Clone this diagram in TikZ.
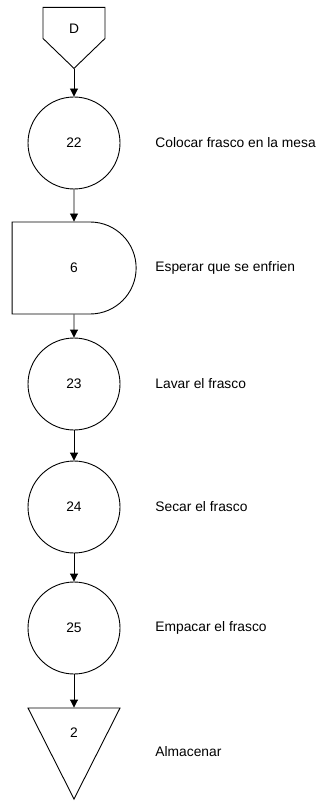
\documentclass[tikz,border=0pt]{standalone}
\usepackage{fontspec}
\setmainfont{Liberation Sans}
\usetikzlibrary{positioning,arrows.meta,shapes.symbols,shapes.misc,shapes.geometric}

\tikzset{
every node/.style={font=\fontsize{13.8}{16}\selectfont},
op/.style={draw, circle, minimum size=92pt, inner sep=0pt},
offpage/.style={draw, signal, signal to=south, signal pointer angle=92,
    minimum width=62pt, minimum height=31pt, inner sep=0pt},
delay/.style={draw, rounded rectangle, rounded rectangle left arc=none,
    minimum width=124pt, minimum height=92pt, inner sep=0pt},
store/.style={draw, isosceles triangle, isosceles triangle apex angle=54,
    isosceles triangle stretches, shape border rotate=270,
    minimum width=92pt, minimum height=91pt, inner sep=0pt},
desc/.style={anchor=west, inner sep=0pt},
flow/.style={-{Triangle[length=8pt,width=8pt]}}
}

\begin{document}
\begin{tikzpicture}[x=1pt, y=-1pt, line width=0.9pt]
\useasboundingbox (0,0) rectangle (320,802);

\node (d) [offpage, anchor=north] at (74,7) {};
\node at (74,29) {D};

\node (c22) [op] at (74,143) {22};
\node (w6) [delay] at (74,268) {6};
\node (c23) [op] at (74,384) {23};
\node (c24) [op] at (74,507) {24};
\node (c25) [op] at (74,628) {25};
\node (s2) [store, anchor=apex] at (74,800) {};
\node at (74,733) {2};

\node (t22) [desc] at (155,143) {Colocar frasco en la mesa};
\node (t6) [desc] at (155,268) {Esperar que se enfrien};
\node (t23) [desc] at (155,384) {Lavar el frasco};
\node (t24) [desc] at (155,507) {Secar el frasco};
\node (t25) [desc] at (155,628) {Empacar el frasco};
\node (t2) [desc] at (155,752) {Almacenar};

\draw [flow] (d.south) -- (c22);
\draw [flow] (c22) -- (w6);
\draw [flow] (w6) -- (c23);
\draw [flow] (c23) -- (c24);
\draw [flow] (c24) -- (c25);
\draw [flow] (c25) -- (s2.north);
\end{tikzpicture}
\end{document}
